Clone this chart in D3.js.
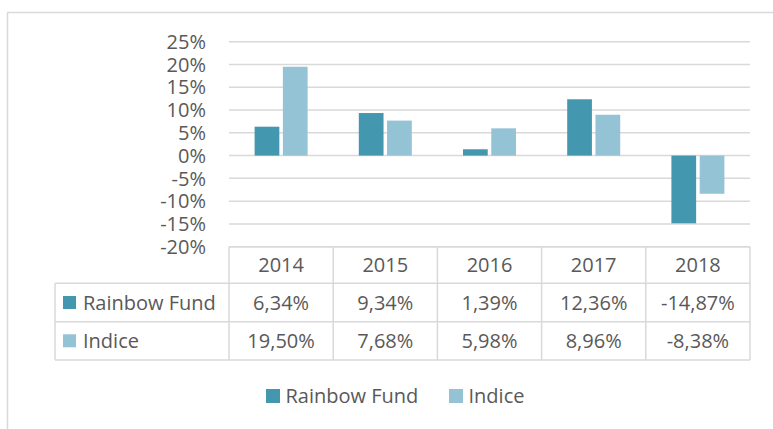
<!DOCTYPE html>
<html>
<head>
<meta charset="utf-8">
<script src="https://cdn.jsdelivr.net/npm/d3@7"></script>
<style>
  body { margin: 0; background: #fff; }
  text { font-family: "Open Sans", Lato, sans-serif; fill: #595959; }
</style>
</head>
<body>
<div id="chart"></div>
<script>
const years = ["2014", "2015", "2016", "2017", "2018"]
const seriesNames = ["Rainbow Fund", "Indice"]
const rainbowFund = [6.34, 9.34, 1.39, 12.36, -14.87]
const indice = [19.50, 7.68, 5.98, 8.96, -8.38]
const yTicks = [25, 20, 15, 10, 5, 0, -5, -10, -15, -20]
const colors = ["#4398b0", "#93c3d5"]

const width = 773
const height = 429
const fontSize = 20

const svg = d3.select("#chart")
    .append("svg")
    .attr("width", width)
    .attr("height", height)

// outer frame
svg.append("rect")
    .attr("x", 7.5).attr("y", 12.5)
    .attr("width", 800).attr("height", 500)
    .attr("fill", "none")
    .attr("stroke", "#d9d9d9")
    .attr("stroke-width", 1.5)

const x = d3.scaleBand()
    .domain(years)
    .range([229, 750])

const y = d3.scaleLinear()
    .domain([-20, 25])
    .range([246.7, 41.7])

// excel style: comma decimal, plain hyphen
const fmt = v => (v < 0 ? "-" : "") + Math.abs(v).toFixed(2).replace(".", ",") + "%"

// gridlines
svg.append("g")
    .selectAll("line")
    .data(yTicks)
    .join("line")
    .attr("x1", 229).attr("x2", 750)
    .attr("y1", d => y(d)).attr("y2", d => y(d))
    .attr("stroke", "#d9d9d9")
    .attr("stroke-width", 1.5)

// y labels
svg.append("g")
    .selectAll("text")
    .data(yTicks)
    .join("text")
    .attr("x", 206)
    .attr("y", d => y(d))
    .attr("dy", "0.36em")
    .attr("text-anchor", "end")
    .style("font-size", fontSize + "px")
    .text(d => d + "%")

const inner = d3.scaleBand()
    .domain(seriesNames)
    .range([0, 53])
    .paddingInner(0.125)

const allSeries = [rainbowFund, indice]
const groupOffset = (x.bandwidth() - 53) / 2

seriesNames.forEach((name, si) => {
    svg.append("g")
        .selectAll("rect")
        .data(allSeries[si])
        .join("rect")
        .attr("x", (d, i) => x(years[i]) + groupOffset + inner(name))
        .attr("width", inner.bandwidth())
        .attr("y", d => y(Math.max(0, d)))
        .attr("height", d => Math.abs(y(d) - y(0)))
        .attr("fill", colors[si])
})

// data table
const rowBottoms = [283.3, 321.7, 360]
const tbl = svg.append("g")
const gridColor = "#d9d9d9"

// horizontal lines
tbl.append("line").attr("x1", 229).attr("x2", 750).attr("y1", 246.7).attr("y2", 246.7)
    .attr("stroke", gridColor).attr("stroke-width", 1.5)
rowBottoms.forEach(yy => {
    tbl.append("line").attr("x1", 55).attr("x2", 750).attr("y1", yy).attr("y2", yy)
        .attr("stroke", gridColor).attr("stroke-width", 1.5)
})
// vertical lines
years.concat(["end"]).forEach((yr, i) => {
    const xx = i < years.length ? x(yr) : 750
    tbl.append("line").attr("x1", xx).attr("x2", xx).attr("y1", 246.7).attr("y2", 360)
        .attr("stroke", gridColor).attr("stroke-width", 1.5)
})
tbl.append("line").attr("x1", 55).attr("x2", 55).attr("y1", 283.3).attr("y2", 360)
    .attr("stroke", gridColor).attr("stroke-width", 1.5)

// header years
tbl.selectAll(".yr")
    .data(years)
    .join("text")
    .attr("class", "yr")
    .attr("x", d => x(d) + x.bandwidth() / 2)
    .attr("y", 265)
    .attr("dy", "0.36em")
    .attr("text-anchor", "middle")
    .style("font-size", fontSize + "px")
    .text(d => d)

const rowMid = [302.5, 340.8]
seriesNames.forEach((name, si) => {
    tbl.append("rect")
        .attr("x", 63).attr("y", rowMid[si] - 6.5)
        .attr("width", 13).attr("height", 13)
        .attr("fill", colors[si])
    tbl.append("text")
        .attr("x", 83)
        .attr("y", rowMid[si])
        .attr("dy", "0.36em")
        .style("font-size", fontSize + "px")
        .text(name)
    tbl.selectAll(".v" + si)
        .data(allSeries[si])
        .join("text")
        .attr("class", "v" + si)
        .attr("x", (d, i) => x(years[i]) + x.bandwidth() / 2)
        .attr("y", rowMid[si])
        .attr("dy", "0.36em")
        .attr("text-anchor", "middle")
        .style("font-size", fontSize + "px")
        .text(d => fmt(d))
})

// bottom legend
const legendX = [266, 449]
seriesNames.forEach((name, si) => {
    svg.append("rect")
        .attr("x", legendX[si]).attr("y", 389)
        .attr("width", 14).attr("height", 14)
        .attr("fill", colors[si])
    svg.append("text")
        .attr("x", legendX[si] + 19.5)
        .attr("y", 396)
        .attr("dy", "0.36em")
        .style("font-size", fontSize + "px")
        .text(name)
})
</script>
</body>
</html>
